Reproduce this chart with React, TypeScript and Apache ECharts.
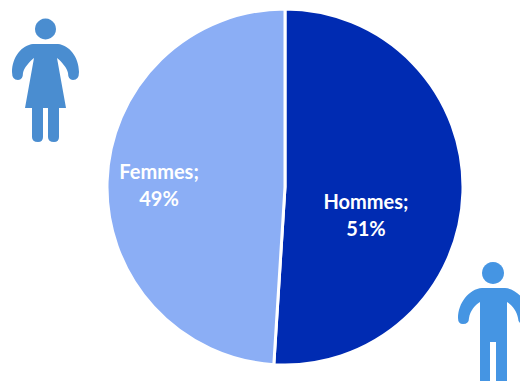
import React, { useEffect, useRef } from "react";
import * as echarts from "echarts";

const categories = ["Hommes", "Femmes"];
const shares = [51, 49];
const sliceColors = ["#002BB2", "#8BAEF5"];
const labelShifts = [
  { dx: -11, dy: 25 },
  { dx: -34, dy: 0 },
];
const iconWoman = "#4A8DD0";
const iconMan = "#4595E3";

// Pictograms, outlined in chart pixels.
const womanOutline =
  "M33 44 L58 44 C69 45 79 57 79 72 Q79 80 73 80 Q68 80 68 73 C67 68 62 62 57 58 L66 108 L59 108 L59 137 Q59 142 54 142 Q48 142 48 137 L48 108 L43 108 L43 137 Q43 142 38 142 Q32 142 32 137 L32 108 L25 108 L34 58 C29 62 24 68 23 73 Q23 80 18 80 Q12 80 12 72 C12 57 22 45 33 44 Z";
const manOutline =
  "M482 288 L505 288 C518 289 529 303 529 318 Q529 324 524 324 Q518 324 518 318 C517 311 512 305 507 302 L507 381 L496 381 L496 342 L490 342 L490 381 L480 381 L480 302 C475 305 470 311 469 318 Q469 324 463 324 Q458 324 458 318 C458 303 469 289 482 288 Z";

echarts.graphic.registerShape("womanFigure", echarts.graphic.extendPath(womanOutline, {}));
echarts.graphic.registerShape("manFigure", echarts.graphic.extendPath(manOutline, {}));

export default function App() {
  const ref = useRef<HTMLDivElement>(null);

  useEffect(() => {
    const chart = echarts.init(ref.current!, null, { renderer: "svg" });
    chart.setOption({
      animation: false,
      backgroundColor: "#ffffff",
      graphic: [
        { type: "circle", shape: { cx: 45.5, cy: 29, r: 10.5 }, style: { fill: iconWoman } },
        { type: "womanFigure", x: 0, y: 0, style: { fill: iconWoman } },
        { type: "circle", shape: { cx: 493, cy: 273, r: 11 }, style: { fill: iconMan } },
        { type: "manFigure", x: 0, y: 0, style: { fill: iconMan } },
      ],
      series: [
        {
          type: "pie",
          center: [285, 187],
          radius: [0, 178],
          startAngle: 90,
          clockwise: true,
          data: categories.map((name, i) => ({
            name,
            value: shares[i],
            itemStyle: { color: sliceColors[i] },
          })),
          itemStyle: { borderColor: "#ffffff", borderWidth: 3 },
          emphasis: { disabled: true },
          label: {
            position: "inside",
            formatter: "{b};\n{d}%",
            color: "#ffffff",
            fontFamily: "Lato",
            fontWeight: "bold",
            fontSize: 20,
            lineHeight: 27,
            align: "center",
          },
          labelLayout: (params: { dataIndex: number }) => labelShifts[params.dataIndex],
          labelLine: { show: false },
        },
      ],
    });
    return () => chart.dispose();
  }, []);

  return <div ref={ref} style={{ position: "absolute", left: 0, top: 0, width: 520, height: 381 }} />;
}
